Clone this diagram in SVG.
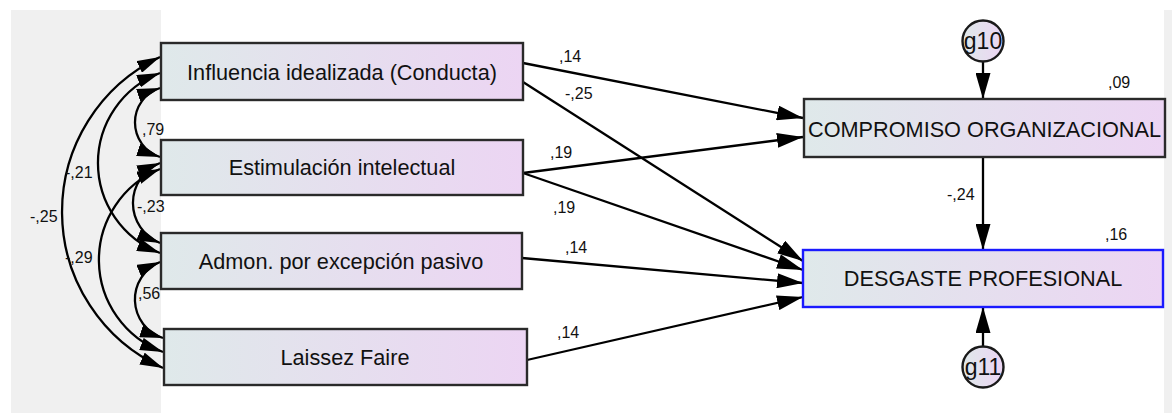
<svg xmlns="http://www.w3.org/2000/svg" width="1172" height="413" viewBox="0 0 1172 413">
<style>
.box{stroke:#2a2a2a;stroke-width:2.4;fill:url(#grad)}
.boxb{stroke:#1a1aff;stroke-width:2.4;fill:url(#grad)}
.circ{stroke:#1a1a1a;stroke-width:2.4;fill:url(#grad)}
.t{font-family:"Liberation Sans",Arial,sans-serif;font-size:21.7px;fill:#111;text-anchor:middle}
.tc{font-family:"Liberation Sans",Arial,sans-serif;font-size:23px;fill:#111;text-anchor:middle}
.lb{font-family:"Liberation Sans",Arial,sans-serif;font-size:16px;fill:#111}
.ln{stroke:#000;stroke-width:2.3;fill:none;marker-end:url(#ah)}
.cv{stroke:#000;stroke-width:2.3;fill:none;marker-end:url(#ahc);marker-start:url(#ahc)}
</style>
<defs>
<linearGradient id="grad" x1="0" y1="0" x2="1" y2="0">
<stop offset="0" stop-color="#dfe9ea"/>
<stop offset="1" stop-color="#ecd5f3"/>
</linearGradient>
<marker id="ah" markerUnits="userSpaceOnUse" markerWidth="26" markerHeight="15" refX="26" refY="7.5" orient="auto" viewBox="0 0 26 15">
<path d="M0,0 L26,7.5 L0,15 z" fill="#000"/>
</marker>
<marker id="ahc" markerUnits="userSpaceOnUse" markerWidth="23" markerHeight="13" refX="23" refY="6.5" orient="auto-start-reverse" viewBox="0 0 23 13">
<path d="M0,0 L23,6.5 L0,13 z" fill="#000"/>
</marker>
</defs>
<rect x="0" y="0" width="1172" height="413" fill="#fff"/>
<rect x="11" y="10" width="150" height="403" fill="#f0f0f0"/>
<rect x="1164" y="10" width="8" height="403" fill="#f0f0f0"/>

<g id="connectors">
<line class="ln" x1="523" y1="63" x2="803" y2="118"/>
<line class="ln" x1="523" y1="82" x2="803" y2="261"/>
<line class="ln" x1="523" y1="173" x2="803" y2="137"/>
<line class="ln" x1="523" y1="173" x2="803" y2="270"/>
<line class="ln" x1="522" y1="258" x2="803" y2="283"/>
<line class="ln" x1="527" y1="360" x2="803" y2="297"/>
<line class="ln" x1="983" y1="62" x2="983" y2="99"/>
<line class="ln" x1="983" y1="157" x2="983" y2="250"/>
<line class="ln" x1="983" y1="346" x2="983" y2="307"/>
<path class="cv" d="M160,57 A171.3,171.3 0 0 0 163,368"/>
<path class="cv" d="M160,73 A96.3,96.3 0 0 0 160,253"/>
<path class="cv" d="M160,169 A98.2,98.2 0 0 0 163,352"/>
<path class="cv" d="M160,88 A36.3,36.3 0 0 0 160,157"/>
<path class="cv" d="M160,163 A43.1,43.1 0 0 0 160,243"/>
<path class="cv" d="M160,262 A40.5,40.5 0 0 0 163,338"/>
</g>

<g id="labels">
<text class="lb" x="559" y="62">,14</text>
<text class="lb" x="565" y="99">-,25</text>
<text class="lb" x="550" y="158">,19</text>
<text class="lb" x="553" y="213">,19</text>
<text class="lb" x="565" y="253">,14</text>
<text class="lb" x="557" y="338">,14</text>
<text class="lb" x="1108" y="88">,09</text>
<text class="lb" x="947" y="200">-,24</text>
<text class="lb" x="1105" y="240">,16</text>
<text class="lb" x="142" y="135">,79</text>
<text class="lb" x="65" y="178">-,21</text>
<text class="lb" x="137" y="212">-,23</text>
<text class="lb" x="30" y="222">-,25</text>
<text class="lb" x="65" y="263">-,29</text>
<text class="lb" x="138" y="299">,56</text>
</g>

<g id="n_influencia">
<rect class="box" x="161" y="43" width="362" height="57"/>
<text class="t" x="342" y="80">Influencia idealizada (Conducta)</text>
</g>
<g id="n_estimulacion">
<rect class="box" x="161" y="140" width="362" height="55"/>
<text class="t" x="342" y="175">Estimulación intelectual</text>
</g>
<g id="n_admon">
<rect class="box" x="161" y="233" width="361" height="56"/>
<text class="t" x="341" y="268.5">Admon. por excepción pasivo</text>
</g>
<g id="n_laissez">
<rect class="box" x="164" y="329" width="363" height="56"/>
<text class="t" x="345" y="365">Laissez Faire</text>
</g>
<g id="n_compromiso">
<rect class="box" x="804" y="99" width="361" height="58"/>
<text class="t" x="984.5" y="137">COMPROMISO ORGANIZACIONAL</text>
</g>
<g id="n_desgaste">
<rect class="boxb" x="803" y="250" width="360" height="57"/>
<text class="t" x="983" y="286">DESGASTE PROFESIONAL</text>
</g>
<g id="n_g10">
<circle class="circ" cx="983" cy="41" r="20.5"/>
<text class="tc" x="983" y="48.5">g10</text>
</g>
<g id="n_g11">
<circle class="circ" cx="983" cy="367" r="20.5"/>
<text class="tc" x="983" y="374.5">g11</text>
</g>
</svg>
